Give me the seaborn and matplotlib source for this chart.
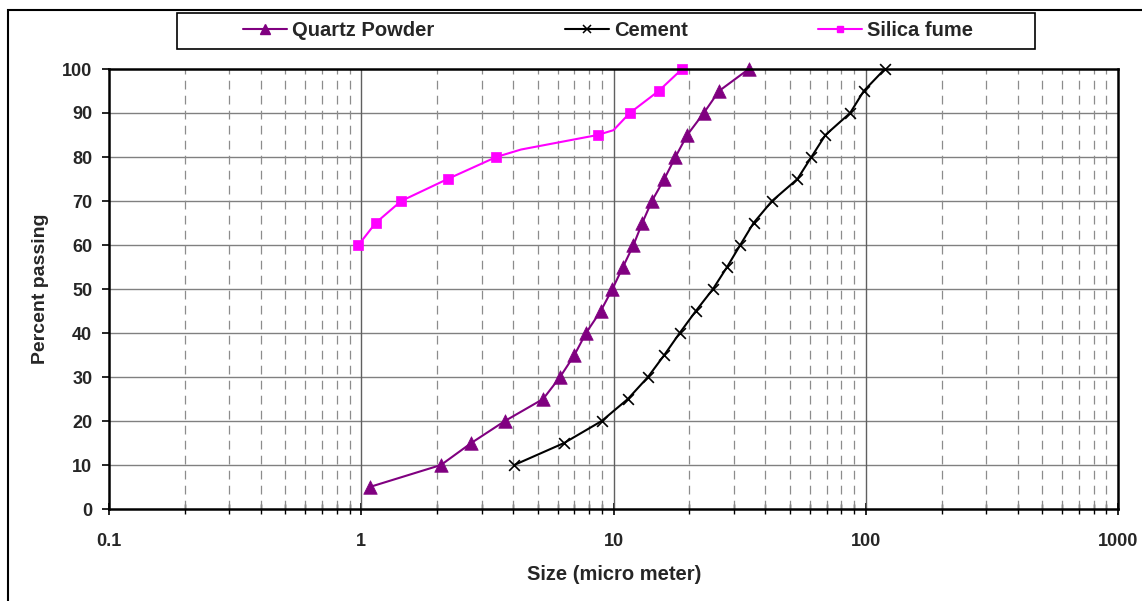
import matplotlib
matplotlib.use("Agg")
import matplotlib.pyplot as plt
from matplotlib.lines import Line2D
from matplotlib.patches import Rectangle
from matplotlib.ticker import FixedLocator, FixedFormatter, NullFormatter
import seaborn as sns
import numpy as np

# ---- data ----
quartz_size = [1.08, 2.07, 2.73, 3.71, 5.26, 6.14, 7.0, 7.78, 8.9, 9.9, 10.9,
               12.0, 13.0, 14.2, 15.9, 17.6, 19.6, 22.8, 26.2, 34.4]
quartz_pass = [5, 10, 15, 20, 25, 30, 35, 40, 45, 50, 55,
               60, 65, 70, 75, 80, 85, 90, 95, 100]

cement_size = [4.04, 6.37, 8.98, 11.4, 13.7, 15.9, 18.3, 21.2, 24.8, 28.2,
               31.8, 35.9, 42.5, 53.6, 60.9, 69.2, 86.7, 98.2, 119]
cement_pass = [10, 15, 20, 25, 30, 35, 40, 45, 50, 55,
               60, 65, 70, 75, 80, 85, 90, 95, 100]

silica_size = [0.975, 1.14, 1.44, 2.2, 3.43, 8.65, 11.6, 15.1, 18.7]
silica_pass = [60, 65, 70, 75, 80, 85, 90, 95, 100]
# bends of the drawn silica fume curve that carry no marker
silica_line_size = [0.975, 1.14, 1.44, 2.2, 3.43, 4.3, 8.65, 10.0, 11.6, 15.1, 18.7]
silica_line_pass = [60, 65, 70, 75, 80, 81.7, 85, 86.1, 90, 95, 100]

series_names = ["Quartz Powder", "Cement", "Silica fume"]
x_ticks = [0.1, 1, 10, 100, 1000]
x_tick_labels = ["0.1", "1", "10", "100", "1000"]
y_ticks = [0, 10, 20, 30, 40, 50, 60, 70, 80, 90, 100]

PURPLE = "#800080"
MAGENTA = "#FF00FF"
BLACK = "#000000"

sns.set_style("white")
plt.rcParams["font.family"] = ["Liberation Sans", "DejaVu Sans"]
plt.rcParams["font.weight"] = "bold"

W, H = 1142, 601
fig = plt.figure(figsize=(W / 100, H / 100), dpi=100)
ax = fig.add_axes([109 / W, 1 - 509 / H, (1118 - 109) / W, (509 - 69) / H])

ax.set_xscale("log")
ax.set_xlim(0.1, 1000)
ax.set_ylim(0, 100)

# gridlines
for yv in y_ticks[1:-1]:
    ax.axhline(yv, color="#808080", lw=1.0, zorder=1)
minor_x = [m * 10.0 ** e for e in range(-1, 3) for m in range(2, 10)]
for xv in minor_x:
    ax.axvline(xv, color="#8c8c8c", lw=0.9, ls=(0, (7, 5)), zorder=1)
for xv in x_ticks[1:-1]:
    ax.axvline(xv, color="#606060", lw=1.0, zorder=1)

# lines
sns.lineplot(x=quartz_size, y=quartz_pass, color=PURPLE, lw=1.5, ax=ax, zorder=3)
sns.lineplot(x=cement_size, y=cement_pass, color=BLACK, lw=1.5, ax=ax, zorder=3)
sns.lineplot(x=silica_line_size, y=silica_line_pass, color=MAGENTA, lw=1.5, ax=ax, zorder=3)

# markers
sns.scatterplot(x=quartz_size, y=quartz_pass, marker="^", s=95, color=PURPLE,
                edgecolor=PURPLE, linewidth=0.5, ax=ax, zorder=4, clip_on=False)
sns.scatterplot(x=cement_size, y=cement_pass, marker="x", s=60, color=BLACK,
                linewidth=1.2, ax=ax, zorder=4, clip_on=False)
sns.scatterplot(x=silica_size, y=silica_pass, marker="s", s=48, color=MAGENTA,
                edgecolor=MAGENTA, linewidth=0.5, ax=ax, zorder=4, clip_on=False)

# axes styling
for side in ["left", "bottom", "top", "right"]:
    ax.spines[side].set_visible(True)
    ax.spines[side].set_color("black")
    ax.spines[side].set_linewidth(1.8)
    ax.spines[side].set_zorder(5)

ax.xaxis.set_major_locator(FixedLocator(x_ticks))
ax.xaxis.set_major_formatter(FixedFormatter(x_tick_labels))
ax.xaxis.set_minor_locator(FixedLocator(minor_x))
ax.xaxis.set_minor_formatter(NullFormatter())
ax.set_yticks(y_ticks)
ax.set_yticklabels([str(v) for v in y_ticks])

ax.tick_params(axis="x", which="major", direction="inout", length=8, width=1.2,
               color="black", labelsize=13, pad=13, bottom=True)
ax.tick_params(axis="x", which="minor", direction="inout", length=7, width=1.0,
               color="black", bottom=True)
ax.tick_params(axis="y", which="major", direction="out", length=5, width=1.2,
               color="black", labelsize=13, pad=7, left=True)
for lab in ax.get_xticklabels() + ax.get_yticklabels():
    lab.set_fontweight("bold")

ax.set_xlabel("Size (micro meter)", fontsize=14.5, fontweight="bold")
ax.set_ylabel("Percent passing", fontsize=14, fontweight="bold")
ax.xaxis.set_label_coords((614 - 109) / (1118 - 109), -(575 - 509) / (509 - 69))
ax.yaxis.set_label_coords(-(109 - 41) / (1118 - 109), 0.5)
ax.xaxis.label.set_verticalalignment("center")
ax.yaxis.label.set_verticalalignment("center")

# legend
handles = [
    Line2D([], [], color=PURPLE, lw=1.5, marker="^", markersize=7,
           markerfacecolor=PURPLE, markeredgecolor=PURPLE),
    Line2D([], [], color=BLACK, lw=1.5, marker="x", markersize=6, markeredgewidth=1.1),
    Line2D([], [], color=MAGENTA, lw=1.5, marker="s", markersize=5,
           markerfacecolor=MAGENTA, markeredgecolor=MAGENTA),
]
leg = fig.legend(handles, series_names, ncol=3, mode="expand",
                 bbox_to_anchor=(243 / W, 1 - 49 / H, (973 - 243) / W, (49 - 13) / H),
                 loc="center", frameon=False, handlelength=2.2, handletextpad=0.25,
                 borderaxespad=0, borderpad=0,
                 prop={"family": ["Liberation Sans", "DejaVu Sans"],
                       "weight": "bold", "size": 14.5})

# legend box and outer chart border
fig.patches.append(Rectangle((177 / W, 1 - 49 / H), (1035 - 177) / W, (49 - 13) / H,
                             transform=fig.transFigure, fill=False,
                             edgecolor="black", lw=1.2))
fig.patches.append(Rectangle((8 / W, -0.05), 1.1, 1.05 - 10 / H,
                             transform=fig.transFigure, fill=False,
                             edgecolor="black", lw=1.5))

fig.savefig("out.png", dpi=100)
